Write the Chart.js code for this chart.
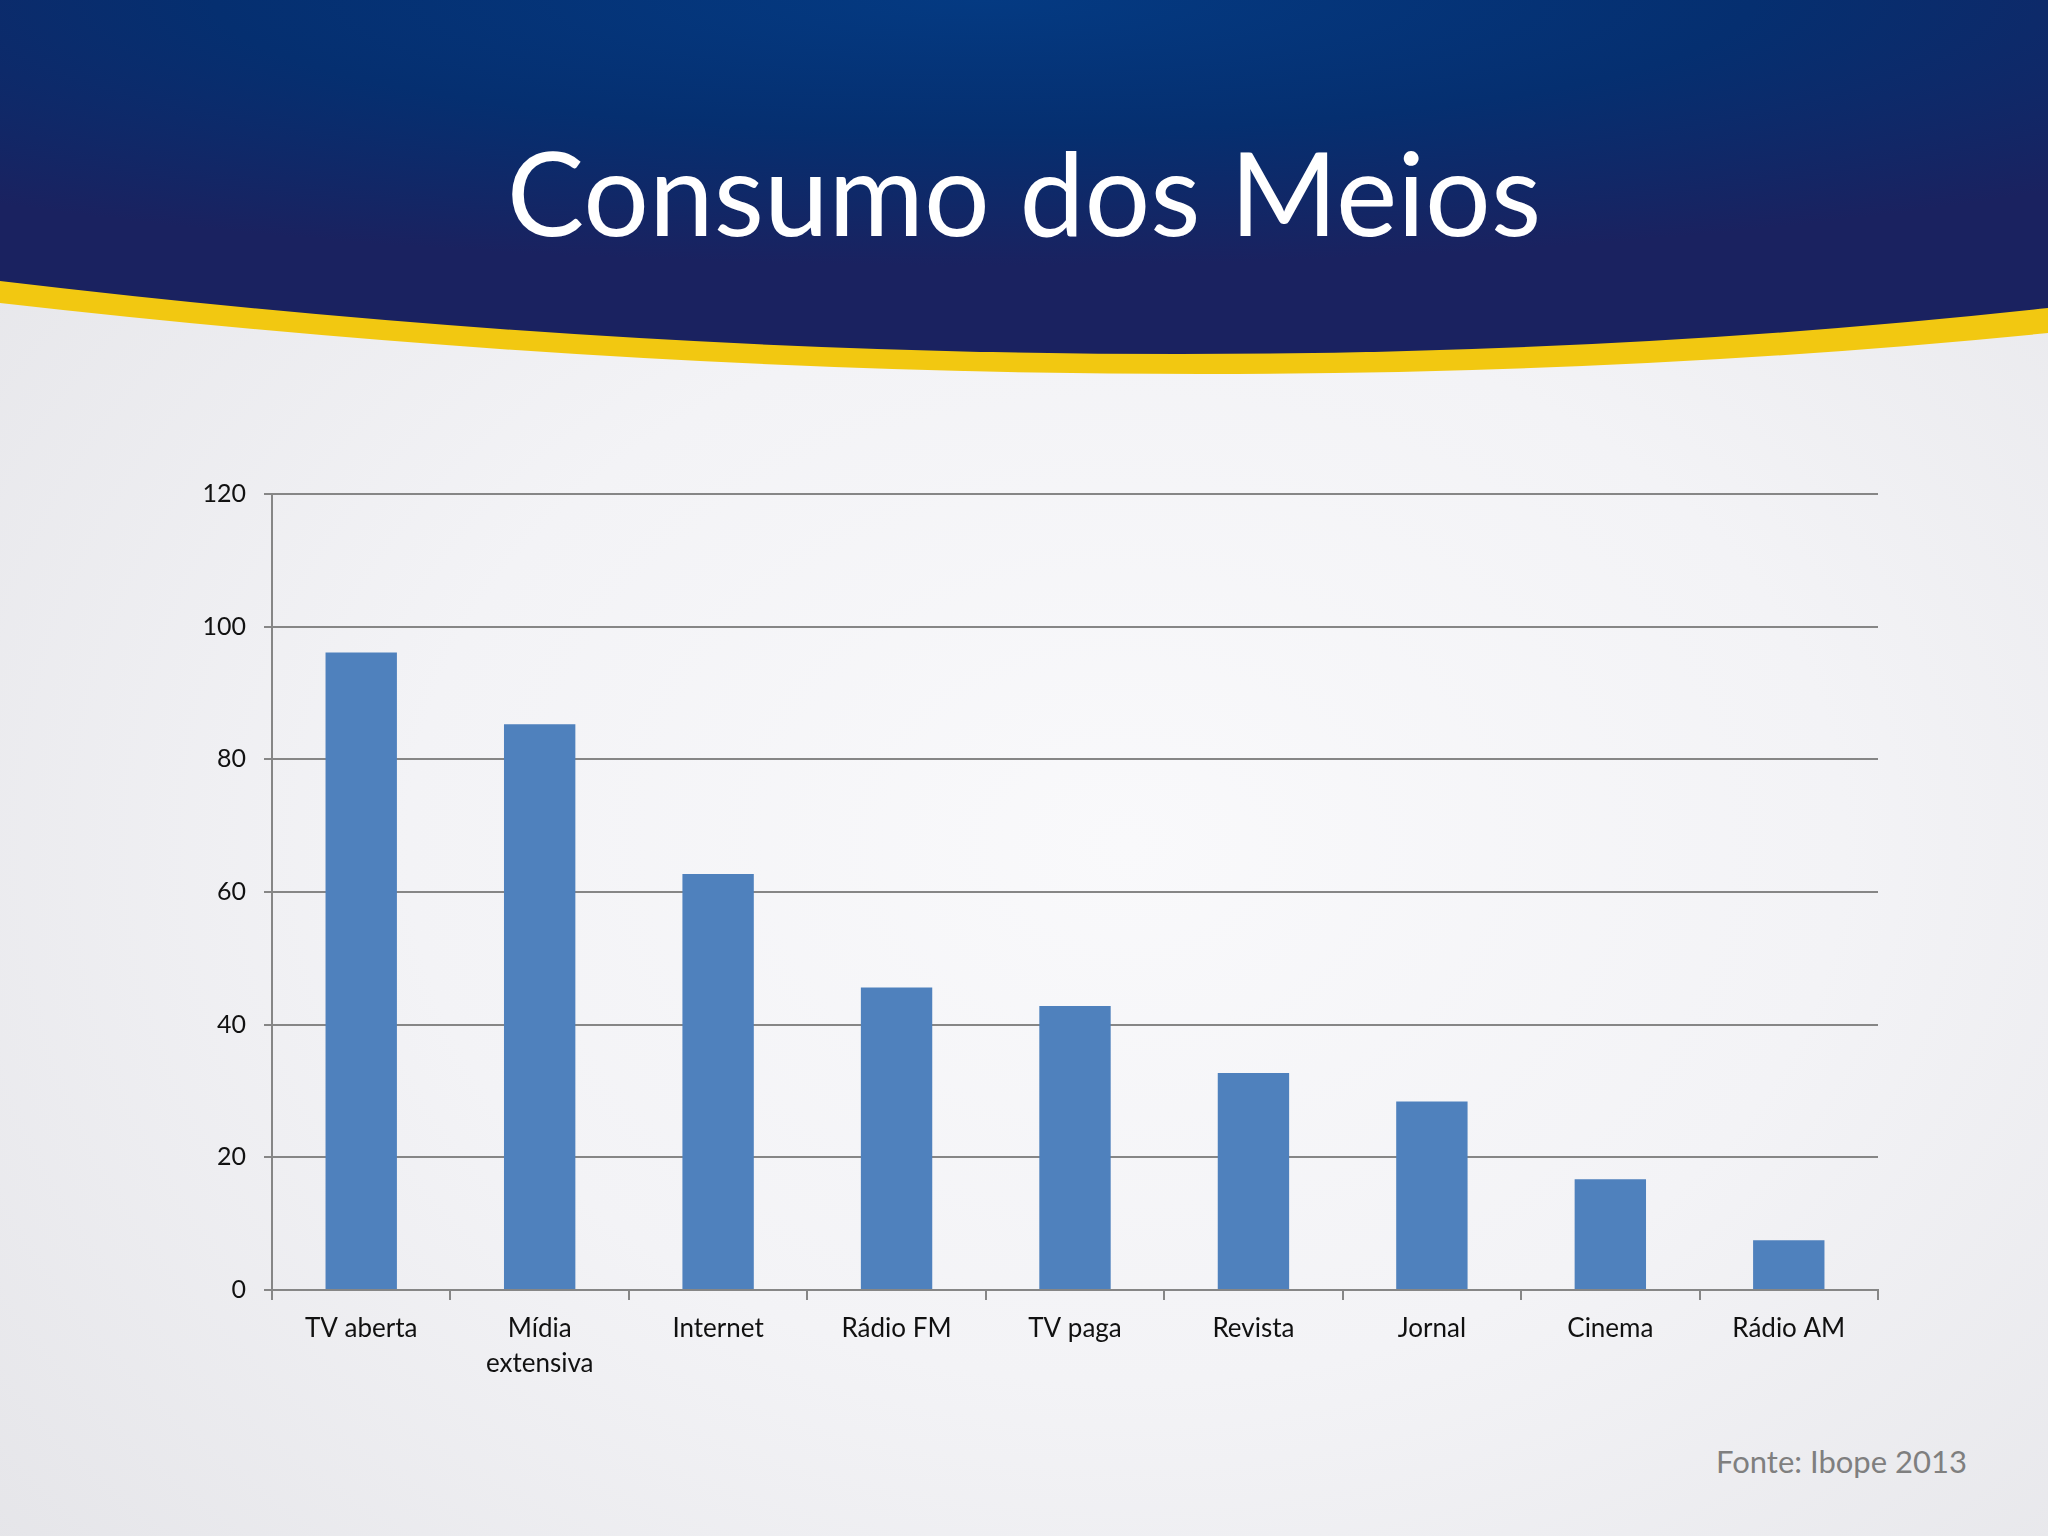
<!DOCTYPE html>
<html>
<head>
<meta charset="utf-8">
<script src="https://cdn.jsdelivr.net/npm/chart.js@4"></script>
<style>
  html, body { margin: 0; padding: 0; }
  body {
    width: 2048px; height: 1536px; position: relative; overflow: hidden;
    background: radial-gradient(ellipse at 55% 55%, #f9f9fb 0%, #f3f3f6 45%, #e3e3e7 100%);
    font-family: Lato, "Open Sans", sans-serif;
  }
  #header { position: absolute; left: 0; top: 0; }
  #title {
    position: absolute; left: 0; width: 2048px; top: 122px;
    text-align: center; color: #fff; font-size: 116px; line-height: 140px;
    font-family: Lato, "Open Sans", sans-serif;
  }
  #fonte {
    position: absolute; left: 1716px; top: 1442px;
    color: #7f7f7f; font-size: 31px;
  }
  #wrap { position: absolute; left: 172px; top: 461px; width: 1716px; height: 929px; }
</style>
</head>
<body>
<svg id="header" width="2048" height="420" viewBox="0 0 2048 420">
  <defs>
    <radialGradient id="navy" cx="48%" cy="0%" r="75%">
      <stop offset="0" stop-color="#043a82"/>
      <stop offset="0.5" stop-color="#052f70"/>
      <stop offset="1" stop-color="#1a2260"/>
    </radialGradient>
  </defs>
  <path d="M0 0 H2048 V333 Q1100 428 0 303 Z" fill="#f2c811"/>
  <path d="M0 0 H2048 V308 Q1100 412 0 281 Z" fill="url(#navy)"/>
</svg>
<div id="title">Consumo dos Meios</div>

<div id="wrap"><canvas id="chart"></canvas></div>
<div id="fonte">Fonte: Ibope 2013</div>

<script>
// categorias e valores
const categorias = ['TV aberta', ['Mídia', 'extensiva'], 'Internet', 'Rádio FM', 'TV paga', 'Revista', 'Jornal', 'Cinema', 'Rádio AM'];
const valores = [96.1, 85.3, 62.7, 45.6, 42.8, 32.7, 28.4, 16.7, 7.5];
const yTicks = [0, 20, 40, 60, 80, 100, 120];

const ctx = document.getElementById('chart').getContext('2d');
const chart = new Chart(ctx, {
    type: 'bar',
    data: {
        labels: categorias,
        datasets: [{
            label: 'Consumo',
            data: valores,
            backgroundColor: '#4f81bd',
            borderWidth: 0,
            barPercentage: 0.4,
            categoryPercentage: 1
        }]
    },
    options: {
        responsive: true,
        maintainAspectRatio: false,
        animation: false,
        layout: { padding: { top: 9, right: 10, left: 0, bottom: 0 } },
        plugins: { legend: { display: false }, tooltip: { enabled: false } },
        scales: {
            x: {
                grid: {
                    offset: true,
                    drawOnChartArea: false,
                    drawTicks: true,
                    tickLength: 10,
                    color: '#868686',
                    lineWidth: 2
                },
                border: { color: '#868686', width: 2 },
                ticks: {
                    color: '#111',
                    font: { family: 'Lato', size: 26, lineHeight: 1.35 },
                    padding: 11,
                    maxRotation: 0,
                    autoSkip: false
                },
                afterFit: (scale) => { scale.height = 100; }
            },
            y: {
                min: 0,
                max: 120,
                afterBuildTicks: (scale) => { scale.ticks = yTicks.map(v => ({ value: v })); },
                grid: {
                    color: '#868686',
                    lineWidth: 2,
                    drawTicks: true,
                    tickLength: 8
                },
                border: { color: '#868686', width: 2 },
                ticks: {
                    color: '#111',
                    font: { family: 'Lato', size: 25 },
                    padding: 18
                },
                afterFit: (scale) => { scale.width = 100; }
            }
        }
    }
});
</script>
</body>
</html>
